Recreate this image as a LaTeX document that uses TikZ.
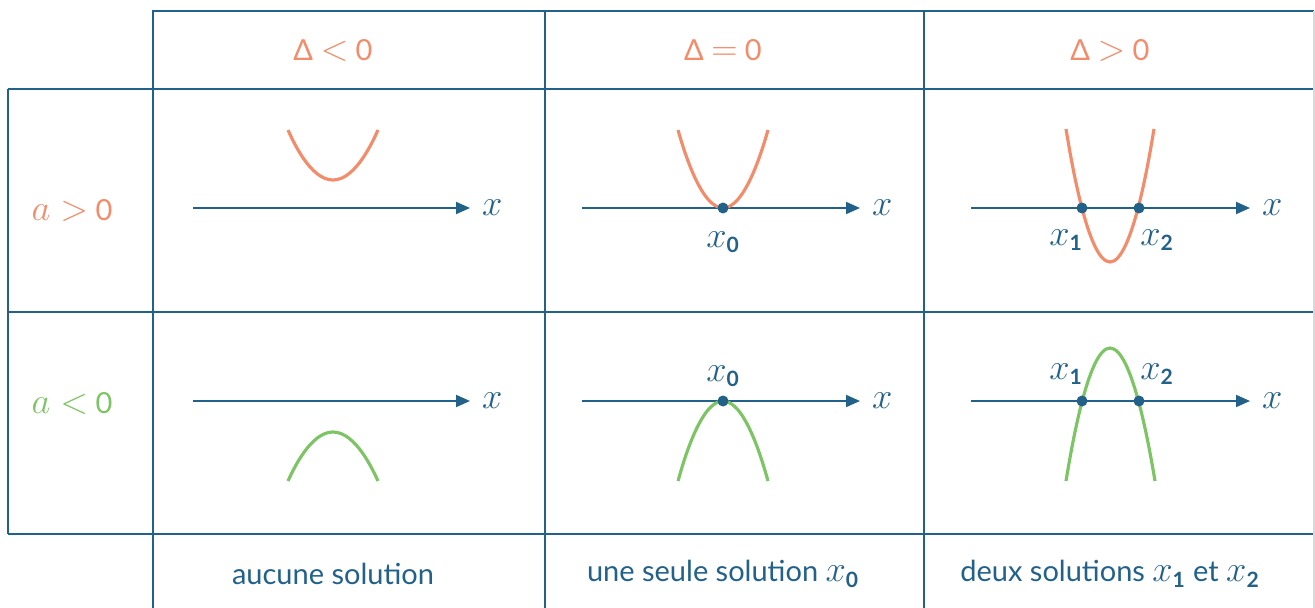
\documentclass[tikz,border=0pt]{standalone}
\usepackage{amsmath}
\usepackage{fontspec}
\setmainfont{Lato}
\usepackage{tikz}
\usetikzlibrary{arrows.meta,positioning}

\definecolor{tabblue}{HTML}{22618A}
\definecolor{parorange}{HTML}{F28C6A}
\definecolor{pargreen}{HTML}{7CC464}
\DeclareMathSizes{16.5}{20}{12}{9}
\newcommand{\xsub}[1]{x_{\text{\bfseries #1}}}

\begin{document}
\begin{tikzpicture}[
  x=0.02cm, y=-0.02cm,
  grid/.style={draw=tabblue, line width=1.1pt},
  axis/.style={draw=tabblue, line width=1.1pt, -{Triangle[length=2.8mm, width=2.4mm]}},
  upcurve/.style={draw=parorange, line width=1.8pt},
  downcurve/.style={draw=pargreen, line width=1.8pt},
  root/.style={circle, fill=tabblue, inner sep=0pt, minimum size=2.2mm},
  lbl/.style={text=tabblue, inner sep=1pt},
  head/.style={inner sep=1pt},
  every node/.style={font=\fontsize{16.5}{20}\selectfont}]
  \useasboundingbox (0,0) rectangle (1315,608);
  % table grid
  \draw[grid] (153,608) -- (153,11) -- (1314,11);
  \draw[grid] (8,89) -- (1314,89);
  \draw[grid] (8,312) -- (1314,312);
  \draw[grid] (8,534) -- (1314,534);
  \draw[grid] (8,89) -- (8,534);
  \draw[grid] (545,11) -- (545,608);
  \draw[grid] (924,11) -- (924,608);
  \draw[gray!30, line width=1.1pt] (1314,11) -- (1314,608);
  % column heads
  \node[head, text=parorange] (dneg) at (333,50) {Δ $<$ 0};
  \node[head, text=parorange] (dnul) at (723,50) {Δ $=$ 0};
  \node[head, text=parorange] (dpos) at (1110,50) {Δ $>$ 0};
  % row heads
  \node[head, text=parorange] (apos) at (72,210) {$a>$ 0};
  \node[head, text=pargreen] (aneg) at (72,403) {$a<$ 0};
  % a > 0 : axes
  \coordinate (axAa) at (193,208);  \coordinate (axAb) at (470,208);
  \coordinate (axBa) at (582,208);  \coordinate (axBb) at (860,208);
  \coordinate (axCa) at (971,208);  \coordinate (axCb) at (1250,208);
  \draw[axis] (axAa) -- (axAb);
  \draw[axis] (axBa) -- (axBb);
  \draw[axis] (axCa) -- (axCb);
  \node[lbl, right=2mm of axAb] (xA) {$x$};
  \node[lbl, right=2mm of axBb] (xB) {$x$};
  \node[lbl, right=2mm of axCb] (xC) {$x$};
  % a > 0 : parabolas
  \draw[upcurve] (288,130) parabola bend (333,180) (378,130);
  \draw[upcurve] (678,130) parabola bend (723,208) (768,130);
  \draw[upcurve] (1066,129) parabola bend (1110,262) (1154,129);
  \node[root] (rB) at (723,208) {};
  \node[root] (rC1) at (1082,208) {};
  \node[root] (rC2) at (1139,208) {};
  \node[lbl] (x0B) at (723,242) {$\xsub{0}$};
  \node[lbl] (x1C) at (1066,240) {$\xsub{1}$};
  \node[lbl] (x2C) at (1157,240) {$\xsub{2}$};
  % a < 0 : axes
  \coordinate (axDa) at (193,401);  \coordinate (axDb) at (470,401);
  \coordinate (axEa) at (582,401);  \coordinate (axEb) at (860,401);
  \coordinate (axFa) at (971,401);  \coordinate (axFb) at (1250,401);
  \draw[axis] (axDa) -- (axDb);
  \draw[axis] (axEa) -- (axEb);
  \draw[axis] (axFa) -- (axFb);
  \node[lbl, right=2mm of axDb] (xD) {$x$};
  \node[lbl, right=2mm of axEb] (xE) {$x$};
  \node[lbl, right=2mm of axFb] (xF) {$x$};
  % a < 0 : parabolas
  \draw[downcurve] (288,481) parabola bend (333,432) (378,481);
  \draw[downcurve] (678,481) parabola bend (723,401) (768,481);
  \draw[downcurve] (1066,481) parabola bend (1110,348) (1155,481);
  \node[root] (rE) at (723,401) {};
  \node[root] (rF1) at (1082,401) {};
  \node[root] (rF2) at (1139,401) {};
  \node[lbl] (x0E) at (723,376) {$\xsub{0}$};
  \node[lbl] (x1F) at (1066,374) {$\xsub{1}$};
  \node[lbl] (x2F) at (1157,374) {$\xsub{2}$};
  % conclusions
  \node[lbl] (solA) at (333,574) {aucune solution};
  \node[lbl] (solB) at (723,574) {une seule solution $\xsub{0}$};
  \node[lbl] (solC) at (1110,574) {deux solutions $\xsub{1}$ et $\xsub{2}$};
\end{tikzpicture}
\end{document}
